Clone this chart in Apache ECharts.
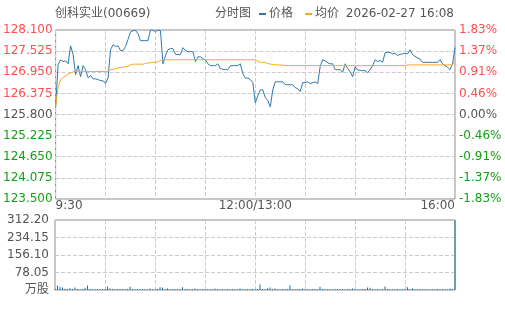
<!DOCTYPE html>
<html><head><meta charset="utf-8">
<script src="https://cdn.jsdelivr.net/npm/echarts@6/dist/echarts.min.js"></script>
<style>html,body{margin:0;padding:0;background:#fff}#c{width:505px;height:310px}</style>
</head><body><div id="c"></div>
<script>
const titleText = '创科实业(00669)';
const chartLabel = '分时图';
const seriesNames = ['价格', '均价'];
const dateText = '2026-02-27 16:08';
const prevClose = 125.8;
const priceTicks = { min: 123.5, max: 128.1, step: 0.575 };
const volTicks = { min: 0, max: 312.2, step: 78.05 };
const volZeroLabel = '万股';
const timeLabels = ['9:30', '12:00/13:00', '16:00'];

const price = [
126.01,127.16,127.29,127.24,127.26,127.18,127.67,127.43,126.88,127.13,
126.83,127.13,127.02,126.80,126.86,126.77,126.77,126.75,126.72,126.72,
126.64,126.80,127.56,127.70,127.65,127.67,127.54,127.54,127.65,127.84,
128.05,128.08,128.09,128.00,127.81,127.81,127.81,127.81,128.10,128.10,
128.05,128.10,128.08,127.18,127.40,127.56,127.60,127.59,127.44,127.43,
127.43,127.62,127.54,127.51,127.51,127.51,127.24,127.37,127.37,127.32,
127.29,127.18,127.13,127.13,127.13,127.18,127.05,127.03,127.02,127.02,
127.13,127.13,127.13,127.13,127.18,126.91,126.79,126.79,126.75,126.67,
126.12,126.31,126.47,126.47,126.26,126.18,126.01,126.47,126.69,126.69,
126.69,126.69,126.61,126.61,126.61,126.61,126.53,126.50,126.43,126.67,
126.67,126.69,126.64,126.67,126.69,126.64,127.11,127.29,127.26,127.21,
127.18,127.18,127.02,127.02,127.02,126.95,127.18,127.05,126.96,126.83,
127.10,127.01,127.00,127.00,126.99,126.94,127.02,127.13,127.29,127.24,
127.27,127.22,127.48,127.49,127.49,127.45,127.47,127.40,127.44,127.45,
127.47,127.45,127.56,127.43,127.38,127.34,127.31,127.22,127.22,127.22,
127.22,127.22,127.22,127.22,127.29,127.18,127.13,127.09,127.02,127.18,
127.62];

const avgPrice = [
126.01,126.55,126.75,126.80,126.85,126.90,126.93,126.96,126.97,126.97,
126.97,126.97,126.97,126.97,126.97,126.97,126.97,126.97,126.97,126.97,
126.97,126.97,127.02,127.03,127.05,127.07,127.08,127.09,127.10,127.11,
127.15,127.17,127.17,127.17,127.17,127.17,127.19,127.20,127.21,127.22,
127.22,127.23,127.27,127.29,127.29,127.29,127.29,127.29,127.29,127.29,
127.29,127.29,127.29,127.29,127.29,127.29,127.29,127.29,127.29,127.29,
127.29,127.29,127.29,127.29,127.29,127.29,127.29,127.29,127.29,127.29,
127.29,127.29,127.29,127.29,127.29,127.29,127.29,127.29,127.29,127.29,
127.29,127.25,127.22,127.22,127.21,127.19,127.17,127.16,127.15,127.15,
127.15,127.14,127.13,127.13,127.13,127.13,127.13,127.13,127.13,127.13,
127.13,127.13,127.13,127.13,127.13,127.13,127.13,127.13,127.13,127.13,
127.13,127.13,127.13,127.13,127.13,127.13,127.13,127.13,127.13,127.13,
127.13,127.13,127.13,127.13,127.13,127.13,127.13,127.13,127.13,127.13,
127.13,127.13,127.13,127.13,127.13,127.13,127.13,127.13,127.13,127.13,
127.13,127.15,127.15,127.15,127.15,127.15,127.15,127.15,127.15,127.15,
127.15,127.15,127.15,127.15,127.15,127.15,127.15,127.15,127.15,127.15,
127.25];

const volume = [
6,20,14,11,6,5,8,4,11,4,
3,4,10,20,4,3,3,4,3,3,
4,16,8,4,3,3,4,3,3,4,
15,4,3,3,3,4,3,3,7,3,
3,4,12,11,4,7,3,3,4,3,
3,12,4,3,3,3,7,3,3,3,
4,3,3,3,7,3,3,3,3,4,
3,3,3,3,7,3,3,3,3,4,
3,4,25,4,3,8,11,4,7,3,
3,3,3,4,20,3,3,3,4,7,
3,3,3,3,4,3,15,4,3,3,
3,3,3,4,3,3,3,3,4,7,
3,3,3,3,4,11,10,4,3,3,
3,3,16,4,3,3,3,3,3,3,
4,12,4,8,3,3,3,3,3,3,
3,3,3,4,3,3,3,3,7,4,
312.2];

const categories = price.map((_, i) => String(i));
const lastIdx = categories.length - 1;
const midIdx = lastIdx / 2;

const RED = '#ff4d4d', GREEN = '#14a014', GRAY = '#555';
const BLUE = '#2f78ae', ORANGE = '#f8a91c';
const FONT = "'DejaVu Sans', 'Noto Sans CJK SC', sans-serif";

function priceColor(v) {
  const d = v - prevClose;
  if (Math.abs(d) < 1e-6) return GRAY;
  return d > 0 ? RED : GREEN;
}
function pctText(v) {
  let p = (v - prevClose) / prevClose * 100;
  if (Math.abs(p) < 1e-6) p = 0;
  return p.toFixed(2) + '%';
}
const splitEvery = (i) => i % 20 === 0;

const chart = echarts.init(document.getElementById('c'), null, { renderer: 'canvas' });
chart.setOption({
  animation: false,
  textStyle: { fontFamily: FONT },
  title: [
    { text: titleText, left: 55, top: 8, padding: 0,
      textStyle: { fontSize: 12, fontWeight: 'normal', color: GRAY, fontFamily: FONT } },
    { text: chartLabel, left: 215, top: 8, padding: 0,
      textStyle: { fontSize: 12, fontWeight: 'normal', color: GRAY, fontFamily: FONT } },
    { text: dateText, right: 51, top: 8, padding: 0,
      textStyle: { fontSize: 12, fontWeight: 'normal', color: GRAY, fontFamily: FONT } }
  ],
  legend: {
    data: seriesNames, left: 259, top: 8, padding: 0,
    itemWidth: 7, itemHeight: 2, itemGap: 12, icon: 'rect',
    textStyle: { fontSize: 12, color: GRAY, fontFamily: FONT, padding: [0, 0, 0, -2] }
  },
  grid: [
    { left: 55, right: 50, top: 30, height: 169, show: true, borderColor: '#888', borderWidth: 1, backgroundColor: 'transparent' },
    { left: 55, right: 50, top: 220, height: 70, show: true, borderColor: '#888', borderWidth: 1, backgroundColor: 'transparent' }
  ],
  xAxis: [
    { type: 'category', gridIndex: 0, data: categories, boundaryGap: false,
      axisLine: { show: false }, axisTick: { show: false },
      splitLine: { show: true, interval: splitEvery, lineStyle: { color: '#ccc', type: 'dashed' } },
      axisLabel: {
        show: true, margin: 1, fontSize: 12, color: GRAY, fontFamily: FONT,
        showMinLabel: true, showMaxLabel: true,
        interval: (i) => i === 0 || i === midIdx || i === lastIdx,
        alignMinLabel: 'left', alignMaxLabel: 'right',
        formatter: (v, i) => i === 0 ? timeLabels[0] : (i === lastIdx ? timeLabels[2] : timeLabels[1])
      } },
    { type: 'category', gridIndex: 1, data: categories, boundaryGap: false,
      axisLine: { show: false }, axisTick: { show: false }, axisLabel: { show: false },
      splitLine: { show: true, interval: splitEvery, lineStyle: { color: '#ccc', type: 'dashed' } } }
  ],
  yAxis: [
    { type: 'value', gridIndex: 0, min: priceTicks.min, max: priceTicks.max, interval: priceTicks.step,
      axisLine: { show: false }, axisTick: { show: false },
      splitLine: { show: true, lineStyle: { color: '#ccc', type: 'dashed' } },
      axisLabel: { margin: 3, fontSize: 12, fontFamily: FONT,
        formatter: (v) => v.toFixed(3), color: (v) => priceColor(v) } },
    { type: 'value', gridIndex: 0, position: 'right', min: priceTicks.min, max: priceTicks.max, interval: priceTicks.step,
      axisLine: { show: false }, axisTick: { show: false }, splitLine: { show: false },
      axisLabel: { margin: 4, fontSize: 12, fontFamily: FONT,
        formatter: (v) => pctText(v), color: (v) => priceColor(v) } },
    { type: 'value', gridIndex: 1, min: volTicks.min, max: volTicks.max, interval: volTicks.step,
      axisLine: { show: false }, axisTick: { show: false },
      splitLine: { show: true, lineStyle: { color: '#ccc', type: 'dashed' } },
      axisLabel: { margin: 6, fontSize: 12, color: GRAY, fontFamily: FONT,
        formatter: (v) => v === 0 ? volZeroLabel : v.toFixed(2) } }
  ],
  series: [
    { name: seriesNames[0], type: 'line', xAxisIndex: 0, yAxisIndex: 0, data: price,
      showSymbol: false, symbol: 'none', lineStyle: { width: 1, color: BLUE }, itemStyle: { color: BLUE } },
    { name: seriesNames[1], type: 'line', xAxisIndex: 0, yAxisIndex: 0, data: avgPrice,
      showSymbol: false, symbol: 'none', lineStyle: { width: 1, color: ORANGE }, itemStyle: { color: ORANGE } },
    { name: 'vol', type: 'bar', xAxisIndex: 1, yAxisIndex: 2, data: volume,
      barWidth: 1, itemStyle: { color: '#1f6ca6' } }
  ]
});
</script></body></html>
